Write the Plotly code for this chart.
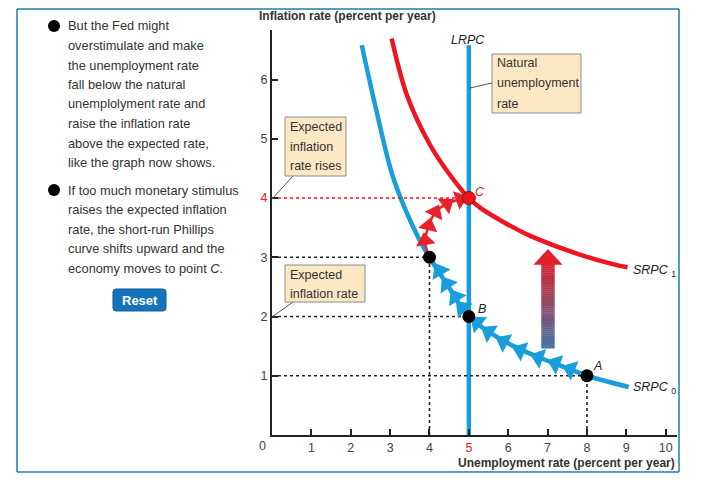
import plotly.graph_objects as go

# ---------------- data ----------------
srpc0_x = [2.28, 2.66, 3.09, 3.68, 4.0, 4.44, 5.0, 5.8, 6.82, 7.58, 8.0, 9.06]
srpc0_y = [6.58, 5.45, 4.32, 3.38, 3.0, 2.55, 2.0, 1.62, 1.30, 1.11, 1.0, 0.81]

srpc1_x = [3.04, 3.43, 4.02, 4.53, 5.0, 5.3, 6.0, 6.56, 7.84, 8.68, 9.03]
srpc1_y = [6.69, 5.73, 4.89, 4.38, 4.0, 3.83, 3.55, 3.36, 3.04, 2.88, 2.83]

lrpc_x = [5, 5]
lrpc_y = [0, 6.58]

# movement from A to the point (4,3) along SRPC0
move0_x = [8.0, 7.58, 7.2, 6.77, 6.31, 5.88, 5.5, 5.21, 4.83, 4.66, 4.44, 4.25]
move0_y = [1.0, 1.11, 1.21, 1.31, 1.43, 1.58, 1.74, 1.9, 2.15, 2.33, 2.55, 2.77]
# movement from (4,3) to C
move1_x = [4.0, 3.93, 3.89, 3.98, 4.15, 4.44, 4.78, 5.0]
move1_y = [3.0, 3.12, 3.28, 3.53, 3.76, 3.9, 3.98, 4.0]

point_names = ["A", "B", "", "C"]
point_x = [8, 5, 4, 5]
point_y = [1, 2, 3, 4]

x_ticks = [1, 2, 3, 4, 5, 6, 7, 8, 9, 10]
y_ticks = [1, 2, 3, 4, 5, 6]

left_text_1 = ["But the Fed might", "overstimulate and make", "the unemployment rate",
               "fall below the natural", "unemplolyment rate and", "raise the inflation rate",
               "above the expected rate,", "like the graph now shows."]
left_text_2 = ["If too much monetary stimulus", "raises the expected inflation",
               "rate, the short-run Phillips", "curve shifts upward and the",
               "economy moves to point <i>C</i>."]

# ---------------- styles ----------------
BLUE = "#1a9edb"
RED = "#f0141e"
INK = "#222222"
TXT = "#333333"
FONT = "Liberation Sans, Arial, sans-serif"
OFF = 8  # page body margin
W, H = 727 - OFF, 494 - OFF
L, R, T, B = 272 - OFF, 50, 30 - OFF, 59
PW, PH = W - L - R, H - T - B
XMAX = PW / 39.37
YMAX = PH / 59.25

# helpers take window-pixel positions (as measured on the reference)


def PX(px):
    return (px - 272) / PW


def PY(py):
    return (435 - py) / PH


def DX(px):
    return (px - 272) / 39.37


def DY(py):
    return (435 - py) / 59.25


fig = go.Figure()

# curves
fig.add_trace(go.Scatter(x=srpc0_x, y=srpc0_y, mode="lines",
                         line=dict(color=BLUE, width=4.5, shape="spline", smoothing=1)))
fig.add_trace(go.Scatter(x=srpc1_x, y=srpc1_y, mode="lines",
                         line=dict(color=RED, width=4.5, shape="spline", smoothing=1)))
fig.add_trace(go.Scatter(x=lrpc_x, y=lrpc_y, mode="lines",
                         line=dict(color=BLUE, width=4.5)))

# dotted guides from the points to the axes
ax_, bx_, dx_, cx_ = point_x
ay_, by_, dy_, cy_ = point_y
guides = [([0, ax_], [ay_, ay_], INK), ([ax_, ax_], [0, ay_], INK),
          ([0, bx_], [by_, by_], INK), ([0, dx_], [dy_, dy_], INK),
          ([dx_, dx_], [0, dy_], INK), ([0, cx_], [cy_, cy_], RED)]
for gx, gy, col in guides:
    fig.add_trace(go.Scatter(x=gx, y=gy, mode="lines",
                             line=dict(color=col, width=1.6, dash="dot")))

# movement arrows
sizes0 = [0] + [18] * (len(move0_x) - 1)
fig.add_trace(go.Scatter(x=move0_x, y=move0_y, mode="lines+markers",
                         line=dict(color=BLUE, width=3, shape="spline"),
                         marker=dict(symbol="triangle-up", size=sizes0, color=BLUE, opacity=1,
                                     line=dict(width=0), angleref="previous")))
sizes1 = [0, 0] + [17] * (len(move1_x) - 3) + [0]
fig.add_trace(go.Scatter(x=move1_x, y=move1_y, mode="lines+markers",
                         line=dict(color="#e8212b", width=2.5, shape="spline"),
                         marker=dict(symbol="triangle-up", size=sizes1, color="#e8212b", opacity=1,
                                     line=dict(width=0), angleref="previous")))

# points
fig.add_trace(go.Scatter(x=point_x[:3], y=point_y[:3], mode="markers",
                         marker=dict(size=13, color="black")))
fig.add_trace(go.Scatter(x=[point_x[3]], y=[point_y[3]], mode="markers",
                         marker=dict(size=13, color=RED, line=dict(color="#8a0c0c", width=1))))

shapes = []
# gradient arrow (shift of SRPC)
n = 40
ax0, ax1 = 6.84, 7.18
y_lo, y_hi = 1.46, 2.88
c_lo, c_hi = (70, 117, 168), (214, 36, 48)
for i in range(n):
    t = (i + 0.5) / n
    col = "rgb(%d,%d,%d)" % tuple(int(c_lo[k] + (c_hi[k] - c_lo[k]) * t) for k in range(3))
    shapes.append(dict(type="rect", xref="x", yref="y", x0=ax0, x1=ax1,
                       y0=y_lo + (y_hi - y_lo) * i / n, y1=y_lo + (y_hi - y_lo) * (i + 1) / n + 0.005,
                       fillcolor=col, line=dict(width=0), layer="below"))
shapes.append(dict(type="path", xref="x", yref="y",
                   path="M 6.64 2.875 L 7.38 2.875 L 7.01 3.14 Z",
                   fillcolor="#e2202b", line=dict(width=0), layer="below"))

# outer frame (four edges; the top edge sits at the page's first visible row)
FRAME = "#1f7daa"
fl, fr, ft, fb = 17, 679, 9, 472
for x0, y0, x1, y1 in ((fl, ft, fr, ft), (fl, fb, fr, fb), (fl, ft, fl, fb), (fr, ft, fr, fb)):
    shapes.append(dict(type="line", xref="paper", yref="paper", x0=PX(x0), y0=PY(y0),
                       x1=PX(x1), y1=PY(y1), line=dict(color=FRAME, width=1.5)))

# bullets
for cy in (26, 190):
    shapes.append(dict(type="circle", xref="paper", yref="paper", x0=PX(48), x1=PX(60),
                       y0=PY(cy + 6), y1=PY(cy - 6), fillcolor="black", line=dict(width=0)))

# reset button (rounded)
bx0, bx1, by0, by1, r = 113, 166, 289, 311, 3
path = ("M %f %f L %f %f Q %f %f %f %f L %f %f Q %f %f %f %f L %f %f Q %f %f %f %f L %f %f Q %f %f %f %f Z" % (
    PX(bx0 + r), PY(by0), PX(bx1 - r), PY(by0), PX(bx1), PY(by0), PX(bx1), PY(by0 + r),
    PX(bx1), PY(by1 - r), PX(bx1), PY(by1), PX(bx1 - r), PY(by1),
    PX(bx0 + r), PY(by1), PX(bx0), PY(by1), PX(bx0), PY(by1 - r),
    PX(bx0), PY(by0 + r), PX(bx0), PY(by0), PX(bx0 + r), PY(by0)))
shapes.append(dict(type="path", xref="paper", yref="paper", path=path,
                   fillcolor="#1673ba", line=dict(color="#0f5f9c", width=1)))

# callout boxes and leader lines
boxes = [((492, 54, 581, 113), ["Natural", "unemployment", "rate"], [63.5, 83.3, 103.5], 494.5,
          (470, 88, 492, 83)),
         ((285, 117, 346, 176), ["Expected", "inflation", "rate rises"], [127, 146.5, 166], 288,
          (293, 176, 272, 199)),
         ((285, 265, 365, 302), ["Expected", "inflation rate"], [274.5, 293.5], 288,
          (293, 302, 272, 317))]
annotations = []
for (x0, y0, x1, y1), lines, ly, lx, (lx0, ly0, lx1, ly1) in boxes:
    shapes.append(dict(type="line", xref="paper", yref="paper", x0=PX(lx0), y0=PY(ly0),
                       x1=PX(lx1), y1=PY(ly1), line=dict(color="#555555", width=1)))
    shapes.append(dict(type="rect", xref="paper", yref="paper", x0=PX(x0), x1=PX(x1),
                       y0=PY(y1), y1=PY(y0), fillcolor="#fde8c6",
                       line=dict(color="#8c8c8c", width=1)))
    for s, yy in zip(lines, ly):
        annotations.append(dict(xref="paper", yref="paper", x=PX(lx), y=PY(yy), text=s,
                                showarrow=False, xanchor="left", yanchor="middle",
                                font=dict(family=FONT, size=12.5, color=TXT)))

# left text
for lines, y_start in ((left_text_1, 26), (left_text_2, 190)):
    for i, s in enumerate(lines):
        annotations.append(dict(xref="paper", yref="paper", x=PX(66), y=PY(y_start + 19.5 * i),
                                text=s, showarrow=False, xanchor="left", yanchor="middle",
                                font=dict(family=FONT, size=12.8, color=TXT)))
annotations.append(dict(xref="paper", yref="paper", x=PX(139.5), y=PY(300), text="<b>Reset</b>",
                        showarrow=False, xanchor="center", yanchor="middle",
                        font=dict(family=FONT, size=13, color="white")))

# axis titles
annotations.append(dict(xref="paper", yref="paper", x=PX(257), y=PY(16),
                        text="<b>Inflation rate (percent per year)</b>", showarrow=False,
                        xanchor="left", yanchor="middle", font=dict(family=FONT, size=12, color=TXT)))
annotations.append(dict(xref="paper", yref="paper", x=PX(677), y=PY(463),
                        text="<b>Unemployment rate (percent per year)</b>", showarrow=False,
                        xanchor="right", yanchor="middle", font=dict(family=FONT, size=12, color=TXT)))
annotations.append(dict(xref="paper", yref="paper", x=PX(262), y=PY(446), text="0",
                        showarrow=False, xanchor="center", yanchor="middle",
                        font=dict(family=FONT, size=12.5, color="#444444")))

# curve / point labels
labels = [(DX(468), DY(39.5), "<i>LRPC</i>", INK, "center"),
          (DX(597), DY(366), "<i>A</i>", INK, "center"),
          (DX(481.7), DY(309), "<i>B</i>", INK, "center"),
          (DX(480), DY(191.7), "<i>C</i>", RED, "center"),
          (DX(631), DY(271), "<i>SRPC</i> <sub>1</sub>", INK, "left"),
          (DX(631), DY(388), "<i>SRPC</i> <sub>0</sub>", INK, "left")]
for x, y, s, col, anc in labels:
    annotations.append(dict(xref="x", yref="y", x=x, y=y, text=s, showarrow=False,
                            xanchor=anc, yanchor="middle",
                            font=dict(family=FONT, size=12.5, color=col)))

x_ticktext = ["<span style='color:%s'>%d</span>" % (RED if v == 5 else "#444444", v) for v in x_ticks]
y_ticktext = ["<span style='color:%s'>%d</span>" % (RED if v == 4 else "#444444", v) for v in y_ticks]

fig.update_layout(
    width=W, height=H, margin=dict(l=L, r=R, t=T, b=B, pad=0),
    plot_bgcolor="white", paper_bgcolor="white", showlegend=False,
    shapes=shapes, annotations=annotations,
    font=dict(family=FONT, size=12.5, color="#444444"),
    xaxis=dict(range=[0, XMAX], showgrid=False, zeroline=False, showline=True,
               linecolor=INK, linewidth=2, ticks="inside", ticklen=6, tickwidth=1.5,
               tickcolor=INK, tickvals=x_ticks, ticktext=x_ticktext, fixedrange=True),
    yaxis=dict(range=[0, YMAX], showgrid=False, zeroline=False, showline=True,
               linecolor=INK, linewidth=2, ticks="inside", ticklen=6, tickwidth=1.5,
               tickcolor=INK, tickvals=y_ticks, ticktext=y_ticktext, fixedrange=True),
)

fig.write_html("out.html")
